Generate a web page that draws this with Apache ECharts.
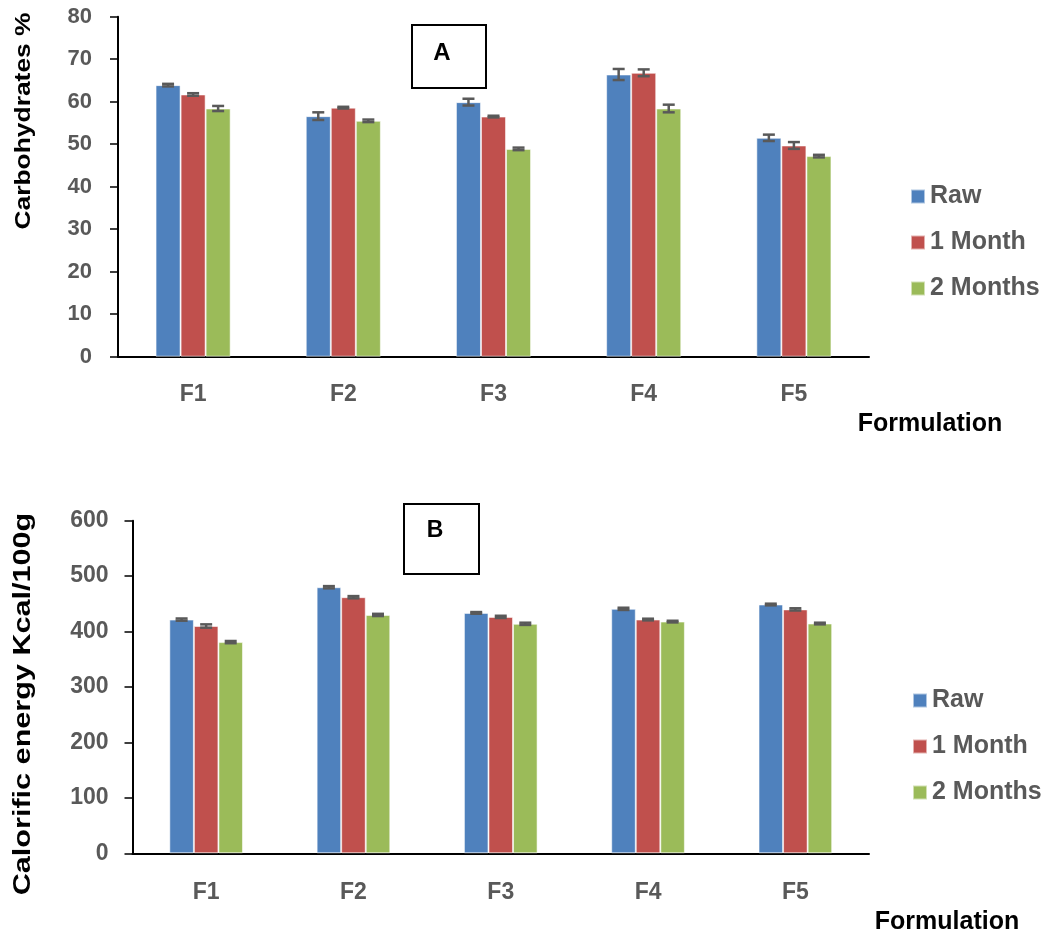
<!DOCTYPE html>
<html>
<head>
<meta charset="utf-8">
<script src="https://cdn.jsdelivr.net/npm/echarts@6/dist/echarts.min.js"></script>
<style>html,body{margin:0;padding:0;background:#fff}#c{width:1047px;height:935px}</style>
</head>
<body>
<div id="c"></div>
<script>
const categories = ['F1', 'F2', 'F3', 'F4', 'F5'];
const seriesNames = ['Raw', '1 Month', '2 Months'];

const carbRaw = [63.9, 56.6, 59.9, 66.4, 51.5];
const carbM1 = [61.7, 58.6, 56.5, 66.8, 49.7];
const carbM2 = [58.4, 55.5, 48.9, 58.4, 47.2];
const carbRawErr = [0.3, 0.9, 0.8, 1.3, 0.75];
const carbM1Err = [0.3, 0.2, 0.2, 0.8, 0.8];
const carbM2Err = [0.6, 0.3, 0.3, 0.9, 0.3];

const energyRaw = [421.6, 480, 433.7, 441, 448.8];
const energyM1 = [410, 462, 426.5, 421.7, 440];
const energyM2 = [381, 430, 414, 418, 414.5];
const energyRawErr = [2, 2, 1.5, 2, 1.5];
const energyM1Err = [3, 2, 2, 1.5, 2];
const energyM2Err = [2, 2, 2, 1.5, 1.5];

const colors = ['#4F81BD', '#C0504D', '#9BBB59'];
const FONT = '"Liberation Sans", Arial, sans-serif';

const chart = echarts.init(document.getElementById('c'), null, {renderer: 'canvas'});

function barSeries(name, data, idx, gi) {
  return {
    name: name, type: 'bar', xAxisIndex: gi, yAxisIndex: gi,
    data: data, barGap: '0%', barCategoryGap: '50%',
    itemStyle: {color: colors[idx], borderColor: 'rgba(255,255,255,0.55)', borderWidth: 1},
    emphasis: {disabled: true}, z: 2
  };
}
function errSeries(name, vals, errs, idx, gi) {
  return {
    name: name, type: 'custom', xAxisIndex: gi, yAxisIndex: gi, z: 5,
    encode: {x: 0, y: 1},
    data: vals.map((v, i) => [i, v, errs[i]]),
    silent: true,
    renderItem: function (params, api) {
      const c = api.value(0), v = api.value(1), e = api.value(2);
      const band = api.size([1, 0])[0];
      const bw = band * 0.5 / 3;
      const center = api.coord([c, v]);
      const x = center[0] + (idx - 1) * bw;
      const yHi = api.coord([c, v + e])[1];
      const yLo = api.coord([c, v - e])[1];
      const cap = 6;
      const st = {stroke: '#595959', lineWidth: 2.5};
      return {
        type: 'group',
        children: [
          {type: 'line', shape: {x1: x, y1: yHi, x2: x, y2: yLo}, style: st},
          {type: 'line', shape: {x1: x - cap, y1: yHi, x2: x + cap, y2: yHi}, style: st},
          {type: 'line', shape: {x1: x - cap, y1: yLo, x2: x + cap, y2: yLo}, style: st}
        ]
      };
    }
  };
}

function xAxis(gi, margin) {
  return {
    type: 'category', gridIndex: gi, data: categories,
    axisLine: {lineStyle: {color: '#000', width: 2}},
    axisTick: {show: false},
    axisLabel: {color: '#595959', fontFamily: FONT, fontWeight: 'bold', fontSize: 23, margin: margin}
  };
}
function yAxis(gi, max, interval, margin, fs) {
  return {
    type: 'value', gridIndex: gi, min: 0, max: max, interval: interval,
    splitLine: {show: false},
    axisLine: {show: true, lineStyle: {color: '#000', width: 2}},
    axisTick: {show: true, inside: false, length: 8, lineStyle: {color: '#000', width: 1.5}},
    axisLabel: {color: '#595959', fontFamily: FONT, fontWeight: 'bold', fontSize: fs, margin: margin}
  };
}

const legendText = {color: '#595959', fontFamily: FONT, fontWeight: 'bold', fontSize: 25, lineHeight: 22};

function txt(t, x, y, size, extra) {
  return Object.assign({type: 'text', x: x, y: y,
    style: {text: t, font: 'bold ' + size + 'px ' + FONT, fill: '#000',
            textAlign: 'center', textVerticalAlign: 'middle', align: 'center', verticalAlign: 'middle'}}, extra || {});
}

const option = {
  animation: false,
  backgroundColor: '#fff',
  grid: [
    {left: 118, top: 16.7, width: 751, height: 340},
    {left: 132.5, top: 520.7, width: 736.5, height: 332.6}
  ],
  xAxis: [xAxis(0, 26), xAxis(1, 28)],
  yAxis: [yAxis(0, 80, 10, 26, 22), yAxis(1, 600, 100, 24, 23)],
  legend: [
    {orient: 'vertical', left: 905, top: 179, itemWidth: 14, itemHeight: 14, itemGap: 21,
     icon: 'rect', data: seriesNames, textStyle: legendText, selectedMode: false},
    {orient: 'vertical', left: 907, top: 683, itemWidth: 14, itemHeight: 14, itemGap: 21,
     icon: 'rect', data: seriesNames, textStyle: legendText, selectedMode: false}
  ],
  series: [
    barSeries('Raw', carbRaw, 0, 0),
    barSeries('1 Month', carbM1, 1, 0),
    barSeries('2 Months', carbM2, 2, 0),
    errSeries('Raw', carbRaw, carbRawErr, 0, 0),
    errSeries('1 Month', carbM1, carbM1Err, 1, 0),
    errSeries('2 Months', carbM2, carbM2Err, 2, 0),
    barSeries('Raw', energyRaw, 0, 1),
    barSeries('1 Month', energyM1, 1, 1),
    barSeries('2 Months', energyM2, 2, 1),
    errSeries('Raw', energyRaw, energyRawErr, 0, 1),
    errSeries('1 Month', energyM1, energyM1Err, 1, 1),
    errSeries('2 Months', energyM2, energyM2Err, 2, 1)
  ],
  graphic: [
    txt('Carbohydrates %', 24, 121, 22, {rotation: Math.PI / 2, scaleX: 1.2}),
    txt('Calorific energy Kcal/100g', 24, 704, 23, {rotation: Math.PI / 2, scaleX: 1.33}),
    txt('Formulation', 930, 424, 25),
    txt('Formulation', 947, 922, 25),
    {type: 'rect', shape: {x: 412, y: 25, width: 74, height: 63},
     style: {fill: '#fff', stroke: '#000', lineWidth: 2}},
    txt('A', 442, 53, 24),
    {type: 'rect', shape: {x: 404, y: 504, width: 75, height: 70},
     style: {fill: '#fff', stroke: '#000', lineWidth: 2}},
    txt('B', 435, 531, 23)
  ]
};
chart.setOption(option);
</script>
</body>
</html>
